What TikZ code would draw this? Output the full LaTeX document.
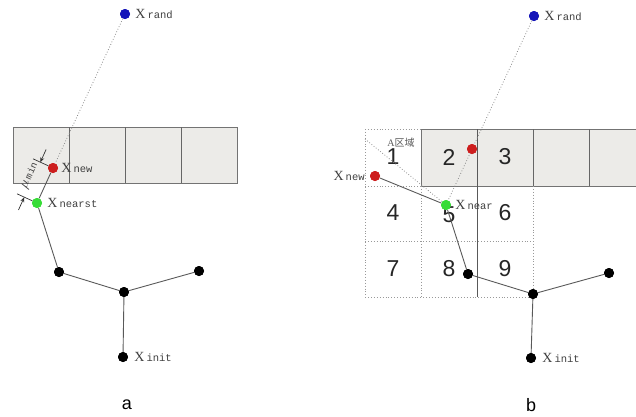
\documentclass[tikz,border=0pt]{standalone}
\usepackage{fontspec}
\setmainfont{Liberation Serif}
\setsansfont{Liberation Sans}
\setmonofont{Liberation Mono}
\newfontfamily\cjkfont{Noto Sans CJK SC}
\usetikzlibrary{arrows.meta,positioning,calc}

\definecolor{cellgray}{RGB}{236,235,232}
\definecolor{randblue}{RGB}{20,20,185}
\definecolor{newred}{RGB}{205,30,30}
\definecolor{neargreen}{RGB}{55,220,55}

\tikzset{
  vtx/.style={circle,fill=#1,inner sep=0pt,minimum size=10pt},
  vtx/.default=black,
  edge/.style={draw=black!65,line width=0.9pt},
  ray/.style={draw=black!45,dotted,line width=0.8pt},
  cellbox/.style={draw=black!55,fill=cellgray,line width=0.9pt},
  gridline/.style={draw=black!40,dotted,line width=0.9pt},
  lab/.style={text=black!75,inner sep=0pt},
  num/.style={font=\sffamily\fontsize{23}{23}\selectfont,text=black!85},
  panel/.style={font=\sffamily\fontsize{18}{18}\selectfont},
  dim/.style={draw=black!80,line width=0.7pt},
}
\newcommand{\xlab}[1]{{\fontsize{14}{14}\selectfont X}\kern2pt{\ttfamily\fontsize{10.5}{10.5}\selectfont #1}}

\begin{document}
\begin{tikzpicture}[x=1pt,y=-1pt,>={Stealth[length=5pt,width=4pt]}]
\useasboundingbox (0,0) rectangle (636,416);

% ---------- panel a ----------
\draw[cellbox] (13,127) rectangle (237,183);
\foreach \x in {69,125,181} \draw[draw=black!60,line width=0.9pt] (\x,127) -- (\x,183);

\node[vtx=randblue]  (arand) at (125,14) {};
\node[vtx=newred]    (anew)  at (53,168) {};
\node[vtx=neargreen] (anear) at (37,203) {};
\node[vtx] (a1) at (59,272) {};
\node[vtx] (a2) at (124,292) {};
\node[vtx] (a3) at (199,271) {};
\node[vtx] (ainit) at (123,357) {};

\draw[ray] (arand) -- (anew);
\draw[edge] (anew) -- (anear) -- (a1) -- (a2) -- (a3);
\draw[edge] (a2) -- (ainit);

% re-stamp the dots over the lines
\foreach \n/\c in {arand/randblue,anew/newred,anear/neargreen,a1/black,a2/black,a3/black,ainit/black}
  \fill[\c] (\n) circle (5pt);

\node[lab,right=5pt of arand] (arandlab) {\xlab{rand}};
\node[lab,right=3pt of anew]  (anewlab)  {\xlab{new}};
\node[lab,right=5pt of anear] (anearlab) {\xlab{nearst}};
\node[lab,right=6pt of ainit] (ainitlab) {\xlab{init}};

% mu_min dimension
\coordinate (dwa) at (48.5,165.9); \coordinate (dwb) at (33,158.8);
\coordinate (dna) at (32.5,200.9); \coordinate (dnb) at (17,193.8);
\coordinate (dt1) at (46.1,149.5); \coordinate (dt2) at (40.3,162.2);
\coordinate (db1) at (18.5,209.9); \coordinate (db2) at (24.3,197.2);
\draw[dim] (dwa) -- (dwb);
\draw[dim] (dna) -- (dnb);
\draw[dim,->] (dt1) -- (dt2);
\draw[dim,->] (db1) -- (db2);
\node[lab,rotate=65] (mumin) at (30,176)
  {{\fontsize{15}{15}\selectfont$\mu$}\kern1.5pt{\ttfamily\fontsize{9.5}{9.5}\selectfont min}};

\node[panel] (alab) at (127,405) {a};

% ---------- panel b ----------
\fill[cellgray] (421,129) rectangle (637,186);
\draw[draw=black!55,line width=0.9pt] (637,129) -- (421,129) -- (421,186) -- (637,186);
\foreach \x in {533,589} \draw[draw=black!60,line width=0.9pt] (\x,129) -- (\x,186);
% 3x3 grid
\draw[gridline] (365,129) -- (421,129);
\draw[gridline] (365,129) -- (365,297) -- (533,297);
\draw[gridline] (365,186) -- (421,186);
\draw[gridline] (365,241) -- (533,241);
\draw[gridline] (421,186) -- (421,297);
\draw[gridline] (533,186) -- (533,297);
\draw[draw=black!65,line width=0.9pt] (477,129) -- (477,297);

\foreach \k/\cx/\cy in {1/393/157,2/449/157,3/505/157,4/393/213,5/449/215,6/505/213,7/393/269,8/449/269,9/505/269}
  \node[num] (c\k) at (\cx,\cy) {\k};
\node[lab,text=black!65,font=\fontsize{10}{10}\selectfont] (areaA) at (401,143) {A{\cjkfont 区域}};

\node[vtx=randblue]  (brand) at (534,16) {};
\node[vtx=newred]    (bcand) at (472,149) {};
\node[vtx=newred]    (bnew)  at (375,176) {};
\node[vtx=neargreen] (bnear) at (446,205) {};
\node[vtx] (b1) at (468,274) {};
\node[vtx] (b2) at (533,294) {};
\node[vtx] (b3) at (609,273) {};
\node[vtx] (binit) at (531,358) {};
\coordinate (bcorner) at (365,139);

\draw[ray] (brand) -- (bnear);
\draw[ray] (bcorner) -- (bnear);
\draw[edge] (bnew) -- (bnear) -- (b1) -- (b2) -- (b3);
\draw[edge] (b2) -- (binit);

\foreach \n/\c in {brand/randblue,bcand/newred,bnew/newred,bnear/neargreen,b1/black,b2/black,b3/black,binit/black}
  \fill[\c] (\n) circle (5pt);

\node[lab,right=5pt of brand] (brandlab) {\xlab{rand}};
\node[lab,left=5pt of bnew]   (bnewlab)  {\xlab{new}};
\node[lab,right=4pt of bnear] (bnearlab) {\xlab{near}};
\node[lab,right=6pt of binit] (binitlab) {\xlab{init}};

\node[panel] (blab) at (531,405) {b};
\end{tikzpicture}
\end{document}
